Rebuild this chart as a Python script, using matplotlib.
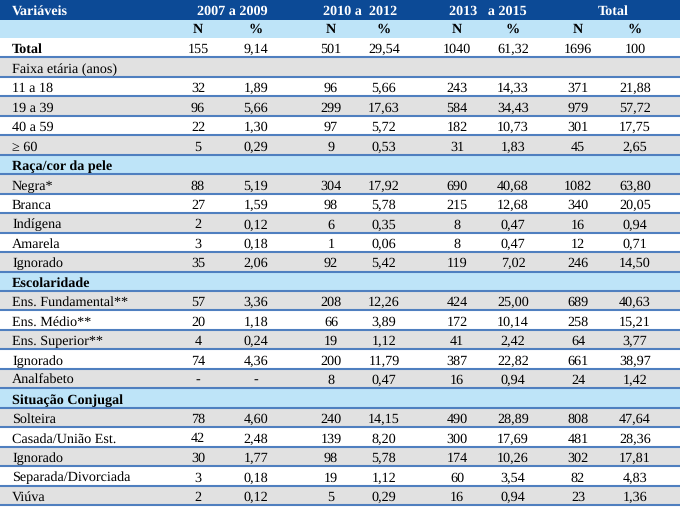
import matplotlib
matplotlib.use("Agg")
import matplotlib.pyplot as plt
from matplotlib.patches import Rectangle

plt.rcParams['font.family'] = ['Liberation Serif', 'DejaVu Serif']
plt.rcParams['text.hinting'] = 'no_hinting'

periods = ["2007 a 2009", "2010 a  2012", "2013   a 2015", "Total"]

labels = ["Total", "Faixa etária (anos)", "11 a 18", "19 a 39", "40 a 59", "\u2265 60",
          "Raça/cor da pele", "Negra*", "Branca", "Indígena", "Amarela", "Ignorado",
          "Escolaridade", "Ens. Fundamental**", "Ens. Médio**", "Ens. Superior**", "Ignorado",
          "Analfabeto", "Situação Conjugal", "Solteira", "Casada/União Est.", "Ignorado",
          "Separada/Divorciada", "Viúva"]

n_0709 = ["155", "", "32", "96", "22", "5", "", "88", "27", "2", "3", "35", "", "57", "20", "4", "74", "-", "", "78", "42", "30", "3", "2"]
p_0709 = ["9,14", "", "1,89", "5,66", "1,30", "0,29", "", "5,19", "1,59", "0,12", "0,18", "2,06", "", "3,36", "1,18", "0,24", "4,36", "-", "", "4,60", "2,48", "1,77", "0,18", "0,12"]
n_1012 = ["501", "", "96", "299", "97", "9", "", "304", "98", "6", "1", "92", "", "208", "66", "19", "200", "8", "", "240", "139", "98", "19", "5"]
p_1012 = ["29,54", "", "5,66", "17,63", "5,72", "0,53", "", "17,92", "5,78", "0,35", "0,06", "5,42", "", "12,26", "3,89", "1,12", "11,79", "0,47", "", "14,15", "8,20", "5,78", "1,12", "0,29"]
n_1315 = ["1040", "", "243", "584", "182", "31", "", "690", "215", "8", "8", "119", "", "424", "172", "41", "387", "16", "", "490", "300", "174", "60", "16"]
p_1315 = ["61,32", "", "14,33", "34,43", "10,73", "1,83", "", "40,68", "12,68", "0,47", "0,47", "7,02", "", "25,00", "10,14", "2,42", "22,82", "0,94", "", "28,89", "17,69", "10,26", "3,54", "0,94"]
n_tot = ["1696", "", "371", "979", "301", "45", "", "1082", "340", "16", "12", "246", "", "689", "258", "64", "661", "24", "", "808", "481", "302", "82", "23"]
p_tot = ["100", "", "21,88", "57,72", "17,75", "2,65", "", "63,80", "20,05", "0,94", "0,71", "14,50", "", "40,63", "15,21", "3,77", "38,97", "1,42", "", "47,64", "28,36", "17,81", "4,83", "1,36"]

# row style: 'w' white, 'g' gray, 's' section (light blue)
row_style = ["w", "g", "w", "g", "w", "g", "s", "g", "w", "g", "w", "g", "s", "g", "w", "g", "w", "g",
             "s", "g", "w", "g", "w", "g"]
bold_rows = {"Total", "Raça/cor da pele", "Escolaridade", "Situação Conjugal"}

W, H = 680, 507
fig = plt.figure(figsize=(6.8, 5.07), dpi=100)
ax = fig.add_axes([0, 0, 1, 1])
ax.set_xlim(0, W)
ax.set_ylim(H, 0)
ax.axis('off')

DARK = '#0c4a96'
LIGHT = '#bee4f8'
GRAY = '#e1e1e1'
LINE = '#4f7fbf'
FS = 10.2

col_x = [198, 256, 331, 384, 457, 513, 578, 635]
period_x = [232, 360, 488, 613]
cols = [n_0709, p_0709, n_1012, p_1012, n_1315, p_1315, n_tot, p_tot]

# header
h1 = 20
h2 = 38
ax.add_patch(Rectangle((0, 0), W, h1, facecolor=DARK, edgecolor='none'))
ax.add_patch(Rectangle((0, h1), W, h2 - h1, facecolor=LIGHT, edgecolor='none'))
ax.text(12, 14.5, "Variáveis", color='white', fontweight='bold', fontsize=FS, va='baseline', ha='left')
for px, p in zip(period_x, periods):
    ax.text(px, 14.5, p, color='white', fontweight='bold', fontsize=FS, va='baseline', ha='center')
for i, cx in enumerate(col_x):
    ax.text(cx, 33, "N" if i % 2 == 0 else "%", fontweight='bold', fontsize=FS,
            va='baseline', ha='center', color='black')

rh = (505 - h2) / len(labels)
for i, lab in enumerate(labels):
    y0 = h2 + i * rh
    st = row_style[i]
    fc = {'w': 'white', 'g': GRAY, 's': LIGHT}[st]
    ax.add_patch(Rectangle((0, y0), W, rh, facecolor=fc, edgecolor='none'))
    yb = y0 + 15.3
    ax.text(12, yb, lab, fontsize=FS, va='baseline', ha='left',
            fontweight='bold' if lab in bold_rows else 'normal', color='black')
    for cx, col in zip(col_x, cols):
        v = col[i]
        if v:
            ax.text(cx, yb, v, fontsize=FS, va='baseline', ha='center', color='black')
    ax.plot([0, W], [y0 + rh, y0 + rh], color=LINE, lw=1.5, solid_capstyle='butt')

fig.savefig("out.png", dpi=100)
